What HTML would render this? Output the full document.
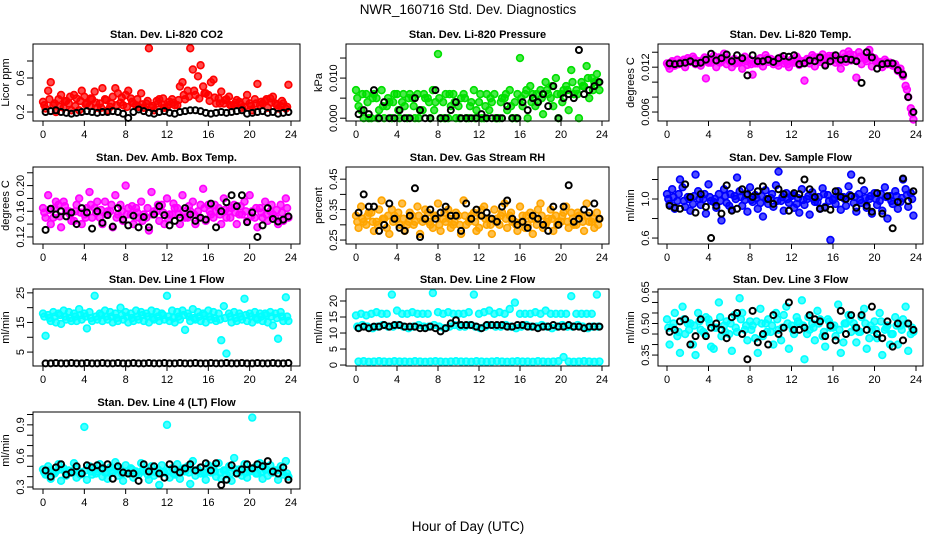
<!DOCTYPE html>
<html><head><meta charset="utf-8"><style>
body{margin:0;background:#fff;}
svg{display:block;font-family:"Liberation Sans",Arial,sans-serif;}
</style></head><body>
<svg id="chart" width="936" height="540" viewBox="0 0 936 540">
<rect width="936" height="540" fill="#fff"/>
<text x="468" y="14" text-anchor="middle" font-size="13.5">NWR_160716  Std. Dev. Diagnostics</text>
<text x="468" y="531" text-anchor="middle" font-size="13.5">Hour of Day (UTC)</text>
</svg>
<script>
const xTicks = [0,4,8,12,16,20,24];

const co2A = [0.32,0.45,0.28,0.35,0.25,0.30,0.40,0.22,0.38,0.27,0.44,0.30,0.35,0.26,0.48,0.31,0.40,0.36,0.28,0.42,0.30,0.25,0.33,0.29,0.26,0.35,0.28,0.55,0.45,0.70,0.62,0.50,0.40,0.58,0.36,0.30,0.38,0.28,0.32,0.26,0.30,0.35,0.28,0.33,0.36,0.30,0.27,0.24];
const co2B = [0.24,0.55,0.20,0.40,0.33,0.22,0.36,0.45,0.30,0.35,0.25,0.48,0.22,0.38,0.42,0.28,0.45,0.30,0.26,0.25,0.95,0.22,0.35,0.25,0.32,0.28,0.50,0.35,0.95,0.40,0.75,0.42,0.55,0.30,0.44,0.35,0.27,0.34,0.25,0.40,0.22,0.53,0.30,0.25,0.38,0.24,0.30,0.52];
const co2C = [0.28,0.35,0.30,0.26,0.32,0.38,0.27,0.33,0.29,0.36,0.31,0.25,0.34,0.30,0.28,0.37,0.26,0.32,0.35,0.29,0.33,0.27,0.30,0.36,0.28,0.31,0.34,0.40,0.38,0.45,0.36,0.42,0.33,0.37,0.30,0.34,0.28,0.31,0.29,0.33,0.27,0.30,0.32,0.35,0.31,0.28,0.33,0.26];
const co2Black = [0.20,0.21,0.22,0.20,0.19,0.18,0.19,0.20,0.21,0.20,0.19,0.20,0.20,0.21,0.20,0.18,0.13,0.20,0.23,0.21,0.19,0.18,0.20,0.21,0.19,0.18,0.20,0.21,0.22,0.22,0.21,0.19,0.18,0.19,0.20,0.19,0.20,0.21,0.22,0.18,0.19,0.20,0.21,0.19,0.20,0.18,0.19,0.20];
const co2Ticks = [0.2,0.4,0.6,0.8];
const co2Labels = ["0.2","","0.6",""];

const presA = [0.007,0.002,0.006,0.000,0.005,0.007,0.003,0.000,0.006,0.004,0.000,0.005,0.006,0.002,0.005,0.007,0.016,0.004,0.000,0.006,0.003,0.006,0.000,0.007,0.004,0.000,0.002,0.006,0.000,0.005,0.007,0.004,0.015,0.006,0.008,0.003,0.007,0.009,0.005,0.010,0.006,0.008,0.012,0.007,0.009,0.013,0.010,0.011];
const presB = [0.003,0.000,0.000,0.006,0.002,0.000,0.004,0.006,0.000,0.003,0.006,0.000,0.002,0.005,0.000,0.004,0.000,0.006,0.003,0.000,0.005,0.000,0.004,0.002,0.000,0.006,0.004,0.000,0.005,0.002,0.000,0.006,0.003,0.000,0.006,0.004,0.001,0.006,0.003,0.000,0.007,0.002,0.006,0.000,0.008,0.005,0.009,0.007];
const presC = [0.005,0.006,0.004,0.005,0.000,0.003,0.005,0.004,0.002,0.006,0.005,0.003,0.000,0.006,0.004,0.002,0.005,0.000,0.006,0.004,0.000,0.005,0.003,0.000,0.006,0.003,0.005,0.000,0.004,0.006,0.003,0.000,0.005,0.007,0.004,0.006,0.005,0.007,0.008,0.006,0.004,0.007,0.009,0.006,0.008,0.010,0.007,0.009];
const presBlack = [0.001,0.002,0.001,0.007,0.000,0.004,0.000,0.000,0.002,0.000,0.000,0.005,0.002,0.000,0.000,0.007,0.000,0.000,0.002,0.004,0.000,0.000,0.000,0.000,0.001,0.000,0.000,0.000,0.000,0.003,0.000,0.000,0.004,0.002,0.005,0.004,0.006,0.003,0.008,0.000,0.005,0.006,0.005,0.017,0.006,0.007,0.008,0.009];
const presTicks = [0.000,0.005,0.010,0.015];
const presLabels = ["0.000","","0.010",""];

const tempA = [0.0125,0.0128,0.0130,0.0127,0.0132,0.0134,0.0128,0.0130,0.0126,0.0135,0.0133,0.0138,0.0129,0.0131,0.0127,0.0134,0.0130,0.0125,0.0132,0.0136,0.0131,0.0129,0.0133,0.0127,0.0130,0.0134,0.0128,0.0131,0.0136,0.0133,0.0137,0.0132,0.0135,0.0130,0.0138,0.0141,0.0136,0.0140,0.0134,0.0143,0.0132,0.0127,0.0130,0.0126,0.0124,0.0118,0.0095,0.0065];
const tempB = [0.0118,0.0122,0.0126,0.0120,0.0127,0.0124,0.0122,0.0105,0.0126,0.0120,0.0128,0.0124,0.0120,0.0126,0.0118,0.0123,0.0110,0.0125,0.0121,0.0127,0.0124,0.0122,0.0125,0.0120,0.0126,0.0123,0.0102,0.0125,0.0121,0.0127,0.0124,0.0128,0.0126,0.0118,0.0127,0.0129,0.0106,0.0124,0.0128,0.0121,0.0126,0.0120,0.0124,0.0122,0.0115,0.0108,0.0080,0.0050];
const tempC = [0.0122,0.0126,0.0124,0.0130,0.0129,0.0131,0.0125,0.0133,0.0128,0.0130,0.0126,0.0132,0.0127,0.0125,0.0130,0.0128,0.0124,0.0129,0.0127,0.0132,0.0128,0.0126,0.0130,0.0124,0.0128,0.0131,0.0126,0.0129,0.0133,0.0130,0.0132,0.0135,0.0131,0.0127,0.0133,0.0137,0.0130,0.0134,0.0131,0.0135,0.0129,0.0125,0.0127,0.0124,0.0120,0.0112,0.0090,0.0058];
const tempBlack = [0.0125,0.0124,0.0125,0.0126,0.0128,0.0125,0.0126,0.0130,0.0138,0.0129,0.0132,0.0137,0.0128,0.0136,0.0132,0.0109,0.0136,0.0128,0.0128,0.0130,0.0127,0.0132,0.0135,0.0134,0.0136,0.0124,0.0125,0.0129,0.0128,0.0133,0.0122,0.0128,0.0136,0.0130,0.0131,0.0130,0.0128,0.0099,0.0140,0.0133,0.0118,0.0124,0.0125,0.0125,0.0116,0.0110,0.0080,0.0060];
const tempTicks = [0.006,0.008,0.010,0.012,0.014];
const tempLabels = ["0.006","","","0.012",""];

const boxA = [0.165,0.185,0.150,0.170,0.175,0.160,0.145,0.180,0.155,0.190,0.165,0.150,0.175,0.160,0.185,0.170,0.200,0.155,0.165,0.175,0.150,0.190,0.160,0.170,0.180,0.155,0.165,0.185,0.150,0.175,0.160,0.195,0.170,0.150,0.165,0.180,0.160,0.170,0.155,0.175,0.185,0.150,0.165,0.175,0.160,0.150,0.170,0.180];
const boxB = [0.150,0.140,0.175,0.135,0.160,0.145,0.170,0.140,0.165,0.150,0.175,0.140,0.160,0.135,0.155,0.145,0.165,0.140,0.150,0.155,0.130,0.160,0.145,0.140,0.155,0.165,0.140,0.150,0.160,0.140,0.170,0.145,0.155,0.160,0.140,0.150,0.165,0.140,0.155,0.145,0.160,0.135,0.150,0.145,0.155,0.140,0.145,0.150];
const boxC = [0.158,0.162,0.165,0.152,0.168,0.155,0.160,0.158,0.150,0.170,0.158,0.162,0.155,0.170,0.150,0.160,0.155,0.168,0.158,0.145,0.165,0.155,0.170,0.158,0.148,0.172,0.155,0.160,0.168,0.155,0.150,0.165,0.160,0.170,0.155,0.162,0.150,0.158,0.168,0.160,0.152,0.165,0.158,0.155,0.170,0.162,0.158,0.165];
const boxBlack = [0.131,0.164,0.155,0.160,0.152,0.158,0.140,0.165,0.158,0.133,0.160,0.142,0.154,0.136,0.165,0.147,0.138,0.153,0.135,0.151,0.135,0.155,0.168,0.154,0.138,0.145,0.150,0.165,0.155,0.145,0.150,0.147,0.172,0.135,0.160,0.174,0.185,0.168,0.185,0.143,0.158,0.120,0.138,0.165,0.148,0.144,0.147,0.152];
const boxTicks = [0.12,0.14,0.16,0.18,0.20,0.22];
const boxLabels = ["0.12","","0.16","","0.20",""];

const rhA = [0.33,0.36,0.30,0.34,0.31,0.38,0.29,0.35,0.32,0.37,0.30,0.33,0.36,0.31,0.34,0.29,0.37,0.32,0.35,0.30,0.33,0.38,0.31,0.34,0.29,0.36,0.32,0.35,0.30,0.37,0.33,0.31,0.36,0.29,0.34,0.32,0.37,0.30,0.35,0.33,0.31,0.36,0.34,0.30,0.33,0.37,0.31,0.34];
const rhB = [0.29,0.31,0.34,0.28,0.35,0.32,0.27,0.33,0.30,0.28,0.34,0.31,0.27,0.35,0.30,0.33,0.28,0.31,0.29,0.34,0.27,0.30,0.33,0.28,0.35,0.30,0.27,0.32,0.34,0.29,0.31,0.28,0.33,0.30,0.27,0.35,0.29,0.32,0.28,0.31,0.34,0.29,0.30,0.33,0.28,0.31,0.29,0.32];
const rhC = [0.31,0.32,0.33,0.31,0.30,0.32,0.33,0.31,0.34,0.32,0.31,0.30,0.33,0.32,0.31,0.33,0.30,0.34,0.32,0.31,0.30,0.33,0.32,0.31,0.33,0.32,0.30,0.31,0.33,0.32,0.34,0.30,0.31,0.33,0.32,0.30,0.33,0.31,0.32,0.30,0.33,0.31,0.32,0.34,0.31,0.33,0.32,0.30];
const rhBlack = [0.34,0.40,0.36,0.36,0.28,0.30,0.37,0.32,0.29,0.28,0.33,0.42,0.26,0.32,0.35,0.32,0.34,0.36,0.33,0.33,0.28,0.37,0.32,0.35,0.33,0.34,0.32,0.31,0.36,0.38,0.32,0.30,0.31,0.29,0.33,0.32,0.30,0.28,0.36,0.30,0.36,0.43,0.31,0.32,0.35,0.34,0.37,0.32];
const rhTicks = [0.25,0.30,0.35,0.40,0.45];
const rhLabels = ["0.25","","0.35","","0.45"];

const flowA = [1.05,1.10,0.98,1.12,1.02,0.95,1.08,1.00,1.15,0.97,1.05,1.10,0.93,1.03,1.08,0.99,1.12,1.04,0.96,1.09,1.01,1.14,0.98,1.06,1.03,0.95,1.10,1.00,1.07,0.97,1.11,1.04,0.99,1.08,1.02,1.13,0.96,1.05,1.09,1.00,1.06,0.98,1.12,1.03,1.08,0.97,1.10,1.06];
const flowB = [0.95,0.90,1.20,0.92,0.88,1.25,0.94,0.85,0.98,0.91,0.78,0.96,0.89,1.22,0.93,0.87,0.97,0.90,0.82,0.95,0.92,1.28,0.88,0.96,0.91,0.86,0.94,0.84,0.97,0.90,0.92,0.58,0.95,0.89,0.93,1.25,0.87,0.96,0.91,0.85,0.94,0.88,0.80,0.95,0.90,1.20,0.92,0.83];
const flowC = [1.00,1.02,1.05,0.98,1.00,1.03,1.00,1.05,1.02,1.00,0.98,1.03,1.05,1.00,1.02,1.04,0.99,1.01,1.03,1.00,1.05,0.98,1.02,1.00,1.04,1.01,0.99,1.03,1.00,1.02,1.05,0.98,1.01,1.03,1.00,1.04,1.02,0.99,1.01,1.03,1.00,1.05,1.02,0.98,1.03,1.01,1.04,1.00];
const flowBlack = [0.93,0.91,0.90,1.15,1.02,0.86,1.05,0.92,0.60,0.93,0.85,1.14,0.88,0.90,1.10,1.05,1.02,1.08,1.13,1.00,0.95,1.10,1.05,0.88,1.06,1.05,1.20,1.10,1.02,0.90,0.91,0.89,1.08,1.02,1.00,1.03,0.91,1.19,0.93,0.87,1.06,0.85,1.03,0.70,0.97,1.21,0.98,1.08];
const flowTicks = [0.6,0.8,1.0,1.2];
const flowLabels = ["0.6","","1.0",""];

const l1A = [18,17.5,18.5,18,19,18.5,18,19.5,18,18.5,24,18,19,18.5,18,20,18.5,18,19,18.5,18,19,18.5,18,24,19,18.5,19,18,19.5,18.5,18,19,18.5,18,20.5,18,18.5,18,23,18,18.5,18,18,18.5,18,18.5,23.5];
const l1B = [10.5,15.5,15,14.5,16,15.5,15.5,16,13,15.5,16,15.5,16,15,15.5,16,15,15.5,16,15.5,15,16,15.5,16,15.5,15,16,12.5,15.5,16,15.5,15,16,15.5,9,4.5,15,15.5,16,15.5,15,16,15.5,15,14,9.5,15.5,15.5];
const l1C = [17,16.5,17,17.5,17,16.5,17,17.5,17,16.5,17,17.5,17,17,16.5,17.5,17,16.5,17,17.5,17,16.5,17,17.5,17,16.5,17,17.5,17,16.5,17,17.5,17,16.5,16,16.5,17,16.5,17,17.5,17,16.5,17,17.5,17,16.5,17,17];
const l1Black = [1.2,1.2,1.3,1.2,1.2,1.3,1.2,1.2,1.3,1.2,1.2,1.3,1.2,1.2,1.3,1.2,1.2,1.3,1.2,1.2,1.3,1.2,1.2,1.3,1.2,1.2,1.3,1.2,1.2,1.3,1.2,1.2,1.3,1.2,1.2,1.3,1.2,1.2,1.3,1.2,1.2,1.3,1.2,1.2,1.3,1.2,1.2,1.3];
const l1Ticks = [5,10,15,20,25];
const l1Labels = ["5","","15","","25"];

const l2A = [15.5,16,15.5,16,16.5,16,16,22,17,16,16,16.5,16,16,16,22.5,16.5,16,16.5,16,16,16,16.5,22,16,16.5,17,16,16.5,16,17.5,19.5,16,16,16,16.5,16,17,16,16,16,16,21.5,16,16,16,16,22];
const l2B = [1.1,1.2,1.0,1.1,1.2,1.1,1.0,1.2,1.1,1.1,1.0,1.2,1.1,1.0,1.1,1.2,1.1,1.0,1.1,1.2,1.1,1.1,1.0,1.2,1.1,1.0,1.1,1.2,1.1,1.0,1.1,1.2,1.1,1.1,1.0,1.2,1.1,1.0,1.1,1.2,2.5,1.1,1.0,1.1,1.2,1.1,1.0,1.1];
const l2C = [12,12.5,12,11.5,12,12.5,12,12,12.5,12,11.5,12,12.5,12,12,12.5,12,11.5,12,12.5,12,12,12.5,12,11.5,12,12.5,12,12,12.5,12,11.5,12,12.5,12,12,12.5,12,11.5,12,12.5,12,12,12.5,12,11.5,12,12];
const l2Black = [11.5,12,11.5,12,12,12.5,12,12.5,12.5,12,12,12,11.5,11.5,12,11.5,10.5,11.5,13,14,12.5,12.5,12.5,12,11.5,12.5,12.5,12.5,12.5,12,12,12.5,12.5,12,12,11.5,12,12,12.5,12,12,12.5,12,12,11.5,12,12,12];
const l2Ticks = [0,5,10,15,20];
const l2Labels = ["0","5","10","15","20"];

const l3A = [0.52,0.48,0.44,0.58,0.50,0.40,0.55,0.46,0.52,0.38,0.60,0.49,0.45,0.54,0.62,0.47,0.51,0.43,0.57,0.50,0.46,0.55,0.42,0.58,0.49,0.53,0.61,0.45,0.50,0.56,0.44,0.52,0.48,0.59,0.41,0.54,0.50,0.46,0.57,0.43,0.51,0.55,0.47,0.40,0.53,0.49,0.58,0.45];
const l3B = [0.40,0.55,0.36,0.45,0.50,0.35,0.47,0.53,0.39,0.48,0.44,0.51,0.37,0.46,0.55,0.42,0.49,0.36,0.44,0.52,0.40,0.47,0.54,0.38,0.45,0.50,0.33,0.47,0.42,0.52,0.39,0.48,0.44,0.36,0.50,0.46,0.41,0.53,0.38,0.47,0.43,0.35,0.49,0.45,0.40,0.52,0.37,0.46];
const l3C = [0.48,0.50,0.46,0.52,0.47,0.49,0.51,0.45,0.50,0.48,0.53,0.46,0.50,0.48,0.52,0.49,0.47,0.51,0.50,0.46,0.49,0.52,0.48,0.50,0.47,0.51,0.49,0.53,0.48,0.50,0.46,0.51,0.49,0.47,0.50,0.52,0.48,0.46,0.50,0.49,0.47,0.51,0.48,0.45,0.49,0.47,0.50,0.48];
const l3Black = [0.46,0.47,0.51,0.52,0.40,0.44,0.52,0.44,0.48,0.50,0.47,0.43,0.53,0.55,0.45,0.33,0.56,0.41,0.45,0.40,0.54,0.45,0.48,0.60,0.47,0.47,0.48,0.54,0.52,0.51,0.44,0.49,0.42,0.56,0.45,0.54,0.48,0.54,0.47,0.58,0.45,0.43,0.51,0.39,0.50,0.42,0.50,0.47];
const l3Ticks = [0.35,0.40,0.45,0.50,0.55,0.60,0.65];
const l3Labels = ["0.35","","","0.50","","","0.65"];

const l4A = [0.47,0.50,0.44,0.52,0.48,0.46,0.53,0.45,0.88,0.50,0.47,0.52,0.44,0.49,0.54,0.46,0.51,0.48,0.45,0.53,0.47,0.50,0.44,0.51,0.90,0.48,0.52,0.46,0.50,0.55,0.47,0.44,0.51,0.49,0.53,0.46,0.50,0.58,0.47,0.52,0.45,0.49,0.53,0.47,0.51,0.46,0.50,0.55];
const l4B = [0.42,0.38,0.45,0.36,0.41,0.44,0.39,0.43,0.37,0.42,0.45,0.40,0.38,0.44,0.41,0.36,0.43,0.39,0.42,0.45,0.37,0.41,0.32,0.44,0.39,0.42,0.38,0.45,0.33,0.41,0.43,0.37,0.44,0.40,0.38,0.42,0.36,0.44,0.41,0.39,0.97,0.43,0.38,0.41,0.44,0.37,0.42,0.40];
const l4C = [0.44,0.46,0.43,0.47,0.45,0.44,0.48,0.42,0.46,0.45,0.43,0.47,0.44,0.46,0.48,0.43,0.45,0.47,0.44,0.46,0.42,0.45,0.47,0.44,0.46,0.43,0.45,0.48,0.44,0.46,0.45,0.43,0.47,0.45,0.44,0.46,0.43,0.47,0.45,0.44,0.46,0.43,0.45,0.47,0.44,0.46,0.45,0.43];
const l4Black = [0.46,0.40,0.49,0.52,0.42,0.44,0.50,0.43,0.51,0.49,0.51,0.48,0.52,0.38,0.50,0.44,0.43,0.43,0.36,0.52,0.45,0.50,0.43,0.39,0.52,0.47,0.44,0.48,0.52,0.46,0.49,0.53,0.46,0.53,0.32,0.37,0.51,0.43,0.47,0.52,0.48,0.52,0.50,0.55,0.45,0.43,0.49,0.37];
const l4Ticks = [0.3,0.4,0.5,0.6,0.7,0.8,0.9,1.0];
const l4Labels = ["0.3","","","0.6","","","0.9",""];

const NS = "http://www.w3.org/2000/svg";
const svg = document.getElementById("chart");
function mk(tag, attrs, parent){ const e=document.createElementNS(NS,tag); for(const k in attrs) e.setAttribute(k,attrs[k]); (parent||svg).appendChild(e); return e; }

const cols = [{l:33,r:300,x0:43,x24:291},{l:346,r:609,x0:356,x24:602},{l:658,r:923,x0:667,x24:916}];
const rows = [{t:44,b:121},{t:167,b:244},{t:289,b:366},{t:412,b:489}];

const panels = [
 {key:"co2",title:"Stan. Dev. Li-820 CO2",ylab:"Licor ppm",c:0,r:0,ymin:0.094,ymax:1.0,col:"#ff0000",A:co2A,B:co2B,C:co2C,K:co2Black,ticks:co2Ticks,labels:co2Labels},
 {key:"pressure",title:"Stan. Dev. Li-820 Pressure",ylab:"kPa",c:1,r:0,ymin:-0.0007,ymax:0.0185,col:"#00e000",A:presA,B:presB,C:presC,K:presBlack,ticks:presTicks,labels:presLabels},
 {key:"temp",title:"Stan. Dev. Li-820 Temp.",ylab:"degrees C",c:2,r:0,ymin:0.0048,ymax:0.0151,col:"#ff00ff",A:tempA,B:tempB,C:tempC,K:tempBlack,ticks:tempTicks,labels:tempLabels},
 {key:"box-temp",title:"Stan. Dev. Amb. Box Temp.",ylab:"degrees C",c:0,r:1,ymin:0.109,ymax:0.229,col:"#ff00ff",A:boxA,B:boxB,C:boxC,K:boxBlack,ticks:boxTicks,labels:boxLabels},
 {key:"rh",title:"Stan. Dev. Gas Stream RH",ylab:"percent",c:1,r:1,ymin:0.237,ymax:0.49,col:"#ffa500",A:rhA,B:rhB,C:rhC,K:rhBlack,ticks:rhTicks,labels:rhLabels},
 {key:"sample-flow",title:"Stan. Dev. Sample Flow",ylab:"ml/min",c:2,r:1,ymin:0.539,ymax:1.328,col:"#0000ff",A:flowA,B:flowB,C:flowC,K:flowBlack,ticks:flowTicks,labels:flowLabels},
 {key:"line1",title:"Stan. Dev. Line 1 Flow",ylab:"ml/min",c:0,r:2,ymin:0.3,ymax:26.3,col:"#00ffff",A:l1A,B:l1B,C:l1C,K:l1Black,ticks:l1Ticks,labels:l1Labels},
 {key:"line2",title:"Stan. Dev. Line 2 Flow",ylab:"ml/min",c:1,r:2,ymin:-0.3,ymax:23.75,col:"#00ffff",A:l2A,B:l2B,C:l2C,K:l2Black,ticks:l2Ticks,labels:l2Labels},
 {key:"line3",title:"Stan. Dev. Line 3 Flow",ylab:"ml/min",c:2,r:2,ymin:0.298,ymax:0.664,col:"#00ffff",A:l3A,B:l3B,C:l3C,K:l3Black,ticks:l3Ticks,labels:l3Labels},
 {key:"line4",title:"Stan. Dev. Line 4 (LT) Flow",ylab:"ml/min",c:0,r:3,ymin:0.281,ymax:1.024,col:"#00ffff",A:l4A,B:l4B,C:l4C,K:l4Black,ticks:l4Ticks,labels:l4Labels}
];

panels.forEach(p=>{
  const C=cols[p.c], R=rows[p.r];
  const g=mk("g",{});
  
  
  const xs=h=>C.x0+(C.x24-C.x0)*h/24;
  const ys=v=>R.b-(v-p.ymin)/(p.ymax-p.ymin)*(R.b-R.t);
  const t=mk("text",{x:(C.l+C.r)/2,y:R.t-6,"text-anchor":"middle","font-size":"11","font-weight":"bold"},g);
  t.textContent=p.title;
  
  
  const cy=(R.t+R.b)/2, lx=C.l-24;
  const yl=mk("text",{x:lx,y:cy,"text-anchor":"middle","font-size":"11",transform:`rotate(-90 ${lx} ${cy})`},g);
  yl.textContent=p.ylab;
  
  
  const pts=mk("g",{},g);
  
  
  const plot=(arr,off,col,fill,r,sw)=>arr.forEach((v,i)=>{
    const cyv=ys(v); if(cyv<R.t-3||cyv>R.b+3) return;
    const c=mk("circle",{cx:xs(off+i*0.5),cy:cyv,r:r,fill:fill,"fill-opacity":0.7,stroke:col,"stroke-width":sw},pts);
    
    
  });
  plot(p.C,0.125,p.col,p.col,3.4,1.6);
  plot(p.B,0.25,p.col,p.col,3.4,1.6);
  plot(p.A,0,p.col,p.col,3.4,1.6);
  plot(p.K,0.25,"#000","none",3,2);
  const box=mk("rect",{x:C.l,y:R.t,width:C.r-C.l,height:R.b-R.t,fill:"none",stroke:"#000","stroke-width":1},g);
  
  
  xTicks.forEach(h=>{
    const x=xs(h);
    mk("line",{x1:x,y1:R.b,x2:x,y2:R.b+5,stroke:"#000"},g);
    const tl=mk("text",{x:x,y:R.b+17,"text-anchor":"middle","font-size":"11"},g);
    tl.textContent=h;
    
    
  });
  p.ticks.forEach((v,i)=>{
    const y=ys(v);
    mk("line",{x1:C.l-6,y1:y,x2:C.l,y2:y,stroke:"#000"},g);
    if(p.labels[i]){
      const tx=C.l-9;
      const tl=mk("text",{x:tx,y:y,"text-anchor":"middle","font-size":"11",transform:`rotate(-90 ${tx} ${y})`},g);
      tl.textContent=p.labels[i];
      
      
    }
  });
});
</script>
</body></html>
